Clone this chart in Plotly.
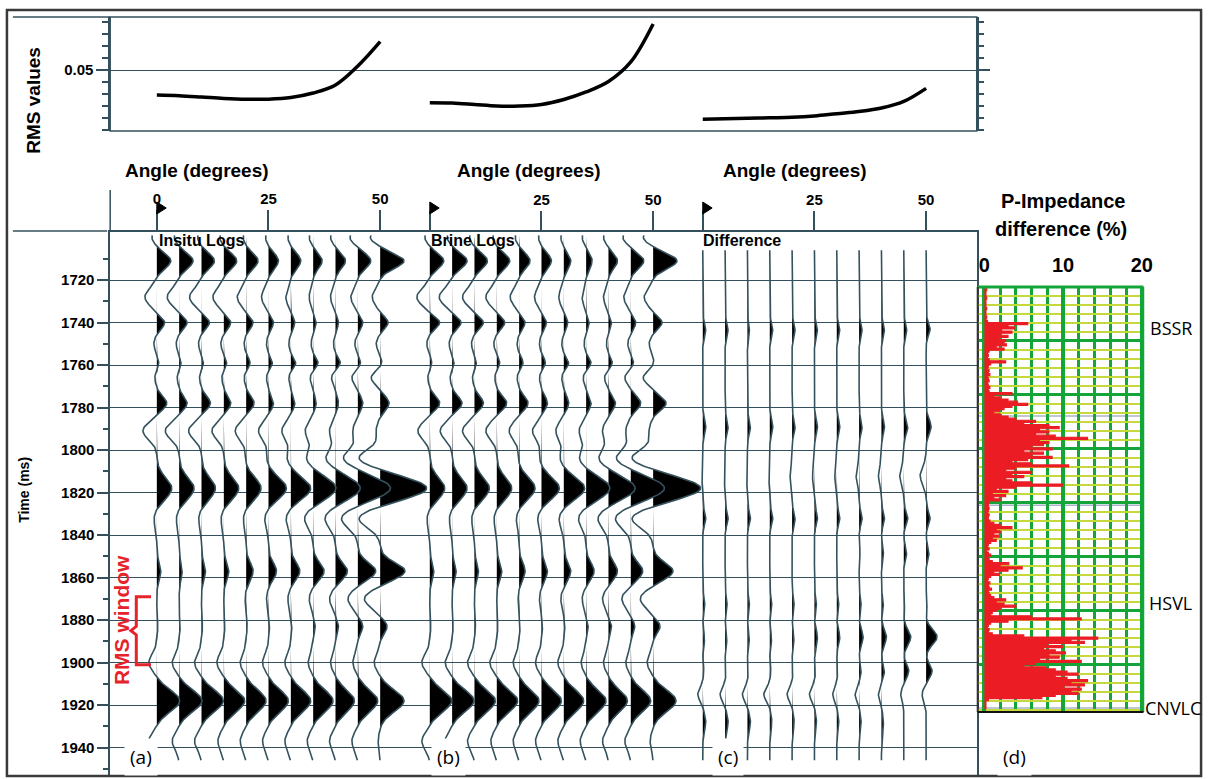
import numpy as np
import plotly.graph_objects as go

W, H = 1218, 779

# ---------------- data ----------------
ANGLES = [0, 5, 10, 15, 20, 25, 30, 35, 40, 45, 50]

RMS_INSITU = [0.0292, 0.0286, 0.0275, 0.0263, 0.0256, 0.0257, 0.0271, 0.0308, 0.0375, 0.0533, 0.0736]
RMS_BRINE = [0.0228, 0.0225, 0.0213, 0.0200, 0.0200, 0.0213, 0.0254, 0.0317, 0.0404, 0.0567, 0.0883]
RMS_DIFF = [0.0089, 0.0093, 0.0098, 0.0102, 0.0106, 0.0117, 0.0136, 0.0154, 0.0183, 0.0238, 0.0347]

TIME_TICKS = [1720, 1740, 1760, 1780, 1800, 1820, 1840, 1860, 1880, 1900, 1920, 1940]
ANGLE_TICKS = [0, 25, 50]

# wiggle events (time ms, width ms, amplitude for each angle)
INSITU_T = [1700, 1711, 1728, 1740, 1750, 1759, 1766, 1778, 1791, 1804, 1818, 1832, 1857, 1870, 1883, 1900, 1918, 1937]
INSITU_W = [3, 3.5, 4, 2.8, 3, 2.5, 3, 3.2, 4, 4, 5, 4.5, 4, 4, 3, 4, 5, 4]
INSITU_A = [
    [-5, -5, -4, -4, -3, -3, -3, -4, -5, -8, -10],
    [14, 14, 13, 13, 12, 10, 10, 9, 10, 13, 24],
    [-12, -12, -12, -11, -9, -7, -5, -4, -5, -7, -8],
    [8, 8, 8, 7, 7, 5, 4, 3, 3, 5, 8],
    [-3, -3, -3, -3, -2, -2, -2, -2, -2, -3, -4],
    [2, 2, 2, 3, 4, 4, 5, 5, 5, 3, 2],
    [-2, -2, -2, -2, -2, -2, -2, -3, -4, -6, -9],
    [10, 8, 9, 7, 8, 5, 4, 3, 3, 5, 9],
    [-14, -14, -13, -12, -11, -10, -9, -8, -6, -5, -4],
    [0, 0, 0, 0, -1, -2, -4, -7, -10, -15, -22],
    [15, 15, 14, 15, 15, 18, 20, 23, 25, 33, 47],
    [-3, -3, -3, -3, -3, -4, -5, -9, -11, -17, -22],
    [4, 3, 4, 5, 7, 8, 9, 11, 12, 18, 25],
    [0, 0, 0, 0, -1, -2, -3, -4, -6, -10, -16],
    [1, 1, 1, 1, 1, 1, 1, 2, 3, 5, 7],
    [-8, -7, -7, -7, -6, -6, -6, -5, -5, -5, -6],
    [23, 23, 22, 21, 20, 20, 20, 20, 19, 20, 24],
    [-8, -7, -7, -6, -6, -6, -6, -6, -6, -6, -2],
]

BRINE_T = [1700, 1711, 1728, 1740, 1750, 1759, 1766, 1778, 1791, 1804, 1818, 1832, 1857, 1870, 1883, 1900, 1918, 1937]
BRINE_W = [3, 3.5, 4, 2.8, 3, 2.5, 3, 3.2, 4, 4, 5, 4.5, 4, 4, 3, 4, 5, 4]
BRINE_A = [
    [-5, -5, -5, -4, -4, -3, -3, -4, -5, -8, -10],
    [14, 15, 13, 13, 11, 10, 7, 6, 9, 13, 24],
    [-13, -13, -12, -11, -9, -7, -5, -4, -5, -7, -9],
    [10, 9, 9, 8, 6, 5, 4, 3, 3, 5, 9],
    [-3, -3, -3, -3, -2, -2, -2, -2, -2, -3, -4],
    [2, 2, 2, 3, 4, 4, 5, 5, 4, 3, 1],
    [-2, -2, -2, -2, -2, -2, -2, -3, -4, -6, -10],
    [10, 10, 9, 10, 9, 6, 5, 5, 7, 10, 13],
    [-12, -12, -12, -11, -10, -9, -8, -7, -6, -5, -4],
    [0, 0, 0, 0, -1, -2, -4, -7, -10, -15, -22],
    [15, 15, 15, 15, 16, 18, 21, 24, 27, 34, 48],
    [-3, -3, -3, -3, -3, -4, -5, -8, -11, -16, -22],
    [4, 4, 4, 5, 6, 6, 7, 8, 9, 12, 20],
    [0, 0, 0, 0, -1, -2, -3, -4, -6, -9, -13],
    [1, 1, 1, 1, 1, 1, 1, 2, 3, 4, 7],
    [-8, -7, -7, -7, -6, -6, -6, -5, -5, -5, -6],
    [22, 22, 21, 21, 20, 20, 20, 20, 19, 20, 23],
    [-8, -7, -7, -6, -6, -6, -6, -6, -6, -6, -3],
]

DIFF_T = [1743, 1789, 1812, 1832, 1848, 1872, 1888, 1904, 1915, 1928]
DIFF_W = [3, 3.5, 4, 3, 3, 3, 3.5, 3, 3, 4]
DIFF_A = [
    [3, 3, 2, 3, 3, 3, 3, 3, 3, 3, 4],
    [3, 3, 3, 3, 3, 3, 3, 3, 3, 4, 5],
    [-1, -1, -1, -1, -2, -2, -2, -3, -3, -4, -6],
    [3, 3, 3, 3, 3, 3, 3, 3, 3, 4, 4],
    [0, 0, 0, 0, 0, 0, 0, 1, 2, 3, 3],
    [2, 2, 2, 2, 2, 2, 2, 2, 2, 1, 1],
    [2, 2, 2, 2, 2, 3, 3, 4, 5, 7, 11],
    [1, 1, 1, 1, 1, 1, 1, 2, 3, 5, 6],
    [-5, -5, -5, -6, -5, -5, -4, -4, -3, -3, -4],
    [3, 3, 3, 2, 2, 2, 2, 2, 2, 0, 0],
]

RMS_WINDOW_MS = [1869, 1901]

# P-impedance difference (%) sampled every 1 ms from 1723 ms
PIMP_START_MS = 1723
PIMP_DIFF = [
    0.2, 0.2, 0.3, 0.2, 0.2, 0.2, 0.3, 0.2, 0.2, 0.2,
    0.2, 0.3, 0.2, 0.2, 0.2, 0.3, 0.2, 0.4, 5.5, 3.0,
    3.8, 2.2, 3.5, 2.0, 3.0, 1.8, 2.7, 2.5, 2.8, 1.5,
    2.5, 0.6, 0.4, 0.5, 0.4, 0.6, 2.7, 0.8, 0.5, 0.4,
    0.6, 0.5, 0.7, 0.4, 0.5, 0.6, 0.4, 0.5, 0.7, 0.5,
    0.6, 3.5, 1.2, 2.0, 3.0, 4.2, 5.5, 3.5, 2.5, 1.9,
    1.2, 2.0, 3.0, 4.0, 6.5, 5.0, 8.2, 9.5, 7.0, 8.2,
    6.5, 9.0, 13.1, 7.0, 8.2, 7.5, 6.0, 8.6, 5.0, 7.5,
    6.0, 8.6, 5.5, 3.5, 6.0, 10.7, 4.0, 2.7, 6.0, 3.5,
    5.0, 2.7, 3.5, 6.0, 9.9, 4.0, 1.5, 3.0, 1.0, 2.7,
    1.2, 2.0, 0.6, 0.5, 0.5, 0.6, 0.5, 0.4, 0.6, 0.5,
    0.5, 0.7, 1.2, 2.0, 3.5, 1.5, 2.0, 1.2, 1.8, 1.0,
    1.5, 0.8, 0.5, 0.4, 0.6, 0.3, 0.5, 0.8, 0.4, 0.6,
    1.0, 3.1, 2.0, 4.8, 3.0, 1.2, 1.9, 0.8, 0.5, 0.4,
    0.7, 0.5, 0.6, 0.9, 0.5, 0.6, 0.8, 1.2, 2.7, 1.5,
    2.5, 4.0, 2.0, 1.5, 1.0, 0.8, 6.0, 12.3, 3.0, 0.8,
    0.5, 0.4, 0.6, 0.5, 1.0, 5.0, 14.4, 11.0, 12.7, 8.0,
    9.9, 7.5, 9.0, 10.3, 8.2, 9.5, 7.0, 12.3, 6.5, 5.0,
    7.8, 9.0, 10.5, 11.9, 9.0, 10.5, 13.1, 11.0, 12.7, 10.0,
    12.3, 11.0, 11.9, 9.0, 7.3, 0.5, 0.2, 0.2, 0.2, 0.2,
]
HORIZON_MS = [1784, 1826, 1921.4]
HORIZON_NAMES = ["BSSR", "HSVL", "CNVLC"]
HORIZON_LABEL_MS = [1741, 1870.6, 1920]

# ---------------- layout geometry (pixels) ----------------
PX_PER_MS = 2.125
Y_1720 = 280.0
PX_PER_DEG = 4.5
X_L, X_R = 111, 984
MAIN_TOP, MAIN_BOT = 232, 776
RMS_TOP, RMS_BOT = 17, 131
D_L, D_R, D_TOP, D_BOT = 985, 1152, 287, 712
D_ZERO_PX, D_PX_PER_PCT = 991.7, 7.93
ZERO_PX = [158, 433, 708]

GRID = "#34505c"
WIG = "#34525e"
FONT = "Liberation Sans"
HUM = "Open Sans"


def t_of(py_):
    return 1720 + (py_ - Y_1720) / PX_PER_MS


def px(x):
    return x / W


def py(y):
    return 1 - y / H


T_TOP, T_BOT = t_of(MAIN_TOP), t_of(MAIN_BOT)
GAIN = 1.0 / PX_PER_DEG

fig = go.Figure()


def wiggles(times, widths, amps, t0, t1, xa):
    t = np.arange(t0, t1 + 0.25, 0.5)
    xl, yl, xf, yf = [], [], [], []
    for k, ang in enumerate(ANGLES):
        w = np.zeros_like(t)
        for tc, s, a in zip(times, widths, amps):
            w += a[k] * np.exp(-0.5 * ((t - tc) / s) ** 2)
        w = w * GAIN
        xl += list(ang + w) + [None]
        yl += list(t) + [None]
        pos = np.maximum(w, 0)
        xf += list(ang + pos) + [ang, ang, None]
        yf += list(t) + [t[-1], t[0], None]
    fig.add_trace(go.Scatter(x=xf, y=yf, xaxis=xa, yaxis="y", mode="lines",
                             line=dict(width=0, color="black"), fill="toself",
                             fillcolor="black", hoverinfo="skip", showlegend=False))
    fig.add_trace(go.Scatter(x=xl, y=yl, xaxis=xa, yaxis="y", mode="lines",
                             line=dict(width=1.6, color=WIG), hoverinfo="skip",
                             showlegend=False))


wiggles(INSITU_T, INSITU_W, INSITU_A, 1699, 1946, "x")
wiggles(BRINE_T, BRINE_W, BRINE_A, 1699, 1946, "x2")
wiggles(DIFF_T, DIFF_W, DIFF_A, 1706, 1946, "x3")

# RMS curves
for xa, vals in zip(["x", "x2", "x3"], [RMS_INSITU, RMS_BRINE, RMS_DIFF]):
    fig.add_trace(go.Scatter(x=ANGLES, y=vals, xaxis=xa, yaxis="y2", mode="lines",
                             line=dict(color="black", width=3.5, shape="spline"),
                             showlegend=False, hoverinfo="skip"))

# RMS window bracket (panel a axes)
w0, w1 = RMS_WINDOW_MS
wm = (w0 + w1) / 2
fig.add_trace(go.Scatter(
    x=[-1.3, -4.6, -4.6, -5.8, -4.6, -4.6, -1.3],
    y=[w0, w0, wm - 2, wm, wm + 2, w1, w1],
    xaxis="x", yaxis="y", mode="lines", line=dict(color="#e5232b", width=3),
    showlegend=False, hoverinfo="skip"))

# P-impedance difference
pt = PIMP_START_MS + np.arange(len(PIMP_DIFF))
fig.add_trace(go.Scatter(x=PIMP_DIFF, y=pt, xaxis="x4", yaxis="y3", mode="lines",
                         line=dict(color="#ec1c24", width=1.2, shape="hv"),
                         fill="tozerox", fillcolor="#ec1c24",
                         showlegend=False, hoverinfo="skip"))

# ---------------- axes ----------------
xdom = [px(X_L), px(X_R)]


def xrange_for(z):
    return [(X_L - z) / PX_PER_DEG, (X_R - z) / PX_PER_DEG]


tickfont = dict(family=FONT, size=15, color="black", weight="bold")
for i, (name, z) in enumerate(zip(["xaxis", "xaxis2", "xaxis3"], ZERO_PX)):
    ax = dict(domain=xdom, range=xrange_for(z), anchor="y", side="top",
              showgrid=False, zeroline=False, tickmode="array", tickvals=ANGLE_TICKS,
              ticktext=["0" if i == 0 else "", "25", "50"], ticks="outside",
              ticklen=20, tickwidth=1.8, tickcolor=GRID, tickfont=tickfont,
              showline=(i == 0), linecolor=GRID, linewidth=1.5)
    if i > 0:
        ax["overlaying"] = "x"
    fig.layout[name] = ax

fig.layout.yaxis = dict(
    domain=[py(MAIN_BOT), py(MAIN_TOP)], range=[T_BOT, T_TOP], anchor="x",
    tickmode="array", tickvals=TIME_TICKS, ticks="outside", ticklen=11,
    tickwidth=1.6, tickcolor=GRID, tickfont=tickfont, showgrid=True,
    gridcolor=GRID, gridwidth=1.3, zeroline=False, showline=True, mirror=True,
    linecolor=GRID, linewidth=1.5,
    minor=dict(tick0=1710, dtick=20, ticks="outside", ticklen=5, tickcolor=GRID, showgrid=False))

fig.layout.yaxis2 = dict(
    domain=[py(RMS_BOT), py(RMS_TOP)],
    range=[0.05 - (RMS_BOT - 70) / 1200, 0.05 + (70 - RMS_TOP) / 1200], anchor="x",
    tickmode="array", tickvals=[0.05], ticktext=["0.05"], ticks="outside", ticklen=12,
    tickwidth=1.5, tickcolor=GRID, tickfont=tickfont, showgrid=True, gridcolor=GRID,
    gridwidth=1.3, zeroline=False, showline=True, mirror="ticks", linecolor=GRID,
    linewidth=1.5,
    minor=dict(tick0=0, dtick=0.01, ticks="outside", ticklen=6, tickcolor=GRID, showgrid=False))

GREEN = "#13a538"
YELLOW = "#c6d93a"
fig.layout.xaxis4 = dict(
    domain=[px(D_L), px(D_R)],
    range=[(D_L - D_ZERO_PX) / D_PX_PER_PCT, (D_R - D_ZERO_PX) / D_PX_PER_PCT],
    anchor="y3", side="top", tickmode="array", tickvals=[0, 10, 20],
    ticks="outside", ticklen=6, tickcolor="rgba(0,0,0,0)",
    tickfont=dict(family=FONT, size=20, color="black", weight="bold"),
    showgrid=True, gridcolor=GREEN, gridwidth=3.5, zeroline=False, showline=False,
    minor=dict(tick0=0, dtick=2, showgrid=True, gridcolor=GREEN, gridwidth=3))
d_top_t, d_bot_t = t_of(D_TOP), t_of(D_BOT)
fig.layout.yaxis3 = dict(
    domain=[py(D_BOT), py(D_TOP)], range=[d_bot_t, d_top_t], anchor="x4",
    showticklabels=False, ticks="", tickmode="linear", tick0=d_top_t, dtick=25.4,
    showgrid=True, gridcolor=GREEN, gridwidth=3, zeroline=False, showline=False,
    minor=dict(tick0=d_top_t, dtick=25.4 / 6, showgrid=True, gridcolor=YELLOW, gridwidth=2))

# ---------------- shapes ----------------
shapes = []


def pline(x0, y0, x1, y1, color=GRID, width=1.5):
    shapes.append(dict(type="line", xref="paper", yref="paper", x0=px(x0), y0=py(y0),
                       x1=px(x1), y1=py(y1), line=dict(color=color, width=width)))


shapes.append(dict(type="rect", xref="paper", yref="paper", x0=px(7), y0=py(776),
                   x1=px(1210), y1=py(10), line=dict(color="#3a3a3a", width=2.5)))
pline(13, RMS_TOP, X_L, RMS_TOP)
shapes.append(dict(type="rect", xref="paper", yref="paper", x0=px(X_L), y0=py(RMS_BOT),
                   x1=px(X_R), y1=py(RMS_TOP), line=dict(color=GRID, width=1.5)))
pline(13, 231, X_L - 3, 231)
pline(X_L, 190, X_L, MAIN_TOP)
# flags on the zero-angle ticks
for xr in ["x", "x2", "x3"]:
    shapes.append(dict(type="path", xref=xr, yref="paper",
                       path=f"M 0 {py(202)} L 0 {py(214)} L 2.1 {py(208)} Z",
                       fillcolor="black", line=dict(color="black", width=1)))
# d track frame and horizons
for hm in HORIZON_MS:
    shapes.append(dict(type="line", xref="paper", yref="y3", x0=px(D_L), x1=px(D_R),
                       y0=hm, y1=hm, line=dict(color="#a9b4c4", width=1.5), layer="below"))
pline(D_L, D_TOP, D_R, D_TOP, color=GREEN, width=3)
pline(D_R - 1, D_TOP, D_R - 1, D_BOT, color=GREEN, width=3.5)
pline(D_L, D_TOP, D_L, D_BOT, color="#333333", width=2)
pline(D_L, D_BOT, D_R, D_BOT, color="#111111", width=2)
fig.layout.shapes = shapes

# ---------------- annotations ----------------
ann = []


def text(x, y, s, size, family=FONT, bold=True, angle=0, color="black", xanchor="center",
         bg=None, pad=1):
    d = dict(x=px(x), y=py(y), xref="paper", yref="paper", text=s, showarrow=False,
             textangle=angle, xanchor=xanchor, yanchor="middle",
             font=dict(family=family, size=size, color=color,
                       weight="bold" if bold else "normal"))
    if bg:
        d["bgcolor"] = bg
        d["borderpad"] = pad
    ann.append(d)


text(34, 100, "RMS values", 19, angle=-90)
text(198, 170, "Angle (degrees)", 19)
text(533, 170, "Angle (degrees)", 19)
text(801, 170, "Angle (degrees)", 19)
text(24, 490, "Time (ms)", 14, angle=-90)
text(1071, 201, "P-Impedance", 20)
text(1069, 229, "difference (%)", 20)
text(158, 240, "Insitu Logs", 16, xanchor="left")
text(432, 240, "Brine Logs", 16, xanchor="left")
text(706, 240, "Difference", 16, xanchor="left")
for lx, lab in zip([142, 452, 733, 1022], ["(a)", "(b)", "(c)", "(d)"]):
    text(lx, 757, lab, 19, family=HUM, bold=False, bg="white", pad=5)
for name, tm, lx, anc in zip(HORIZON_NAMES, HORIZON_LABEL_MS, [1157, 1156, 1212],
                             ["left", "left", "right"]):
    text(lx, Y_1720 + (tm - 1720) * PX_PER_MS + 3, name, 18, family=HUM, bold=False,
         xanchor=anc)
text(122, 620, "RMS window", 21, angle=-90, color="#e5232b")
fig.layout.annotations = ann

# width follows the page width so paper fractions span the whole window
fig.update_layout(height=H, autosize=True,
                  margin=dict(l=0, r=0, t=0, b=0, pad=0),
                  paper_bgcolor="white", plot_bgcolor="white", showlegend=False)

fig.write_html("out.html", default_width="100%", default_height=f"{H}px",
               config={"displayModeBar": False, "responsive": True})
